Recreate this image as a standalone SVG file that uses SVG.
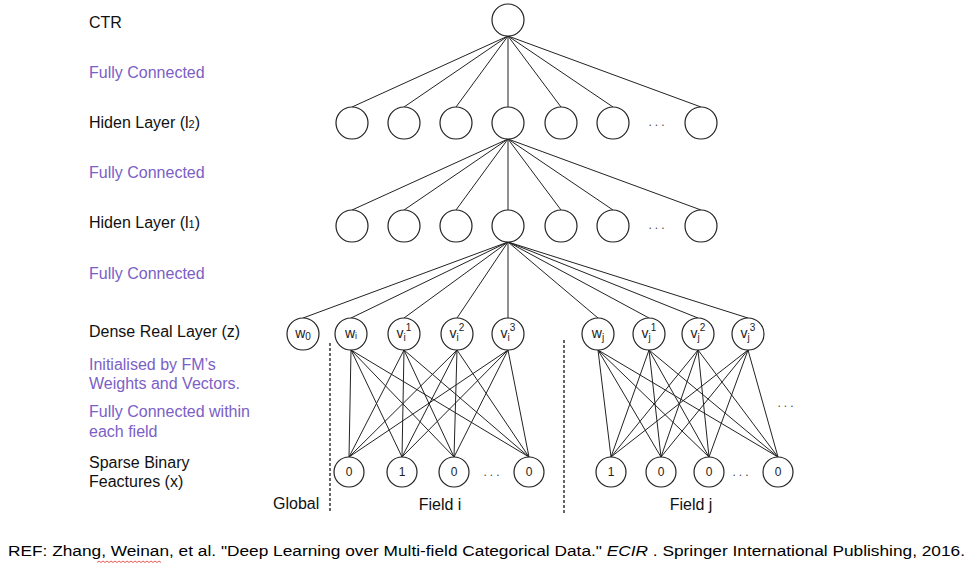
<svg xmlns="http://www.w3.org/2000/svg" width="974" height="571" viewBox="0 0 974 571">
<style>
text{font-family:"Liberation Sans",Arial,sans-serif;}
.lbl{font-size:16px;fill:#111;}
.fc{font-size:16px;fill:#7b60c6;}
.n{fill:#fff;stroke:#222;stroke-width:1.2;}
.e{stroke:#222;stroke-width:1;fill:none;}
.d{stroke:#333;stroke-width:1.5;stroke-dasharray:3,2;fill:none;}
.nt{font-size:14px;fill:#222;text-anchor:middle;}
.bt{font-size:12px;fill:#222;text-anchor:middle;}
.dots{font-size:12px;fill:#444;text-anchor:middle;letter-spacing:3px;}
.ref{font-size:15.5px;fill:#000;}
</style>
<rect width="974" height="571" fill="#fff"/>

<g id="labels">
<text class="lbl" x="89" y="28">CTR</text>
<text class="fc" x="89" y="78">Fully Connected</text>
<text class="lbl" x="89" y="128">Hiden Layer (l<tspan font-size="11">2</tspan>)</text>
<text class="fc" x="89" y="178">Fully Connected</text>
<text class="lbl" x="89" y="228">Hiden Layer (l<tspan font-size="11">1</tspan>)</text>
<text class="fc" x="89" y="279">Fully Connected</text>
<text class="lbl" x="89" y="337">Dense Real Layer (z)</text>
<text class="fc" x="89" y="370">Initialised by FM’s</text>
<text class="fc" x="89" y="389">Weights and Vectors.</text>
<text class="fc" x="89" y="417">Fully Connected within</text>
<text class="fc" x="89" y="437">each field</text>
<text class="lbl" x="89" y="468">Sparse Binary</text>
<text class="lbl" x="89" y="487">Feactures (x)</text>
<text class="lbl" x="273" y="509">Global</text>
<text class="lbl" x="440" y="510" text-anchor="middle">Field i</text>
<text class="lbl" x="691" y="510" text-anchor="middle">Field j</text>
</g>

<g id="connectors">
<!-- CTR to l2 -->
<line class="e" x1="508" y1="36" x2="352" y2="107"/>
<line class="e" x1="508" y1="36" x2="404" y2="107"/>
<line class="e" x1="508" y1="36" x2="456" y2="107"/>
<line class="e" x1="508" y1="36" x2="508" y2="107"/>
<line class="e" x1="508" y1="36" x2="561" y2="107"/>
<line class="e" x1="508" y1="36" x2="613" y2="107"/>
<line class="e" x1="508" y1="36" x2="701" y2="107"/>
<!-- l2 to l1 -->
<line class="e" x1="508" y1="139" x2="352" y2="210"/>
<line class="e" x1="508" y1="139" x2="404" y2="210"/>
<line class="e" x1="508" y1="139" x2="456" y2="210"/>
<line class="e" x1="508" y1="139" x2="508" y2="210"/>
<line class="e" x1="508" y1="139" x2="561" y2="210"/>
<line class="e" x1="508" y1="139" x2="613" y2="210"/>
<line class="e" x1="508" y1="139" x2="701" y2="210"/>
<!-- l1 to dense -->
<line class="e" x1="508" y1="242" x2="303" y2="318"/>
<line class="e" x1="508" y1="242" x2="351" y2="318"/>
<line class="e" x1="508" y1="242" x2="404" y2="318"/>
<line class="e" x1="508" y1="242" x2="457" y2="318"/>
<line class="e" x1="508" y1="242" x2="508" y2="318"/>
<line class="e" x1="508" y1="242" x2="598" y2="318"/>
<line class="e" x1="508" y1="242" x2="649" y2="318"/>
<line class="e" x1="508" y1="242" x2="698" y2="318"/>
<line class="e" x1="508" y1="242" x2="748" y2="318"/>
<!-- field i -->
<path class="e" d="M351 350L349 457M351 350L402 457M351 350L454 457M351 350L529 457
M404 350L349 457M404 350L402 457M404 350L454 457M404 350L529 457
M457 350L349 457M457 350L402 457M457 350L454 457M457 350L529 457
M508 350L349 457M508 350L402 457M508 350L454 457M508 350L529 457"/>
<!-- field j -->
<path class="e" d="M598 350L611 457M598 350L661 457M598 350L709 457M598 350L778 457
M649 350L611 457M649 350L661 457M649 350L709 457M649 350L778 457
M698 350L611 457M698 350L661 457M698 350L709 457M698 350L778 457
M748 350L611 457M748 350L661 457M748 350L709 457M748 350L778 457"/>
<!-- separators -->
<line class="d" x1="330" y1="343" x2="330" y2="513"/>
<line class="d" x1="564" y1="340" x2="564" y2="513"/>
</g>

<g id="ctr"><circle class="n" cx="508" cy="20" r="16"/></g>

<g id="l2">
<circle class="n" cx="352" cy="123" r="16"/>
<circle class="n" cx="404" cy="123" r="16"/>
<circle class="n" cx="456" cy="123" r="16"/>
<circle class="n" cx="508" cy="123" r="16"/>
<circle class="n" cx="561" cy="123" r="16"/>
<circle class="n" cx="613" cy="123" r="16"/>
<text class="dots" x="658" y="126">...</text>
<circle class="n" cx="701" cy="123" r="16"/>
</g>

<g id="l1">
<circle class="n" cx="352" cy="226" r="16"/>
<circle class="n" cx="404" cy="226" r="16"/>
<circle class="n" cx="456" cy="226" r="16"/>
<circle class="n" cx="508" cy="226" r="16"/>
<circle class="n" cx="561" cy="226" r="16"/>
<circle class="n" cx="613" cy="226" r="16"/>
<text class="dots" x="658" y="229">...</text>
<circle class="n" cx="701" cy="226" r="16"/>
</g>

<g id="dense">
<g id="w0"><circle class="n" cx="303" cy="334" r="16"/><text class="nt" x="303" y="338">w<tspan font-size="10" dy="2">0</tspan></text></g>
<g id="wi"><circle class="n" cx="351" cy="334" r="16"/><text class="nt" x="351" y="338">w<tspan font-size="9" dy="1">i</tspan></text></g>
<g id="vi1"><circle class="n" cx="404" cy="334" r="16"/><text class="nt" x="404" y="338">v<tspan font-size="10" dy="3">i</tspan><tspan font-size="10" dy="-10">1</tspan></text></g>
<g id="vi2"><circle class="n" cx="457" cy="334" r="16"/><text class="nt" x="457" y="338">v<tspan font-size="10" dy="3">i</tspan><tspan font-size="10" dy="-10">2</tspan></text></g>
<g id="vi3"><circle class="n" cx="508" cy="334" r="16"/><text class="nt" x="508" y="338">v<tspan font-size="10" dy="3">i</tspan><tspan font-size="10" dy="-10">3</tspan></text></g>
<g id="wj"><circle class="n" cx="598" cy="334" r="16"/><text class="nt" x="598" y="338">w<tspan font-size="10" dy="3">j</tspan></text></g>
<g id="vj1"><circle class="n" cx="649" cy="334" r="16"/><text class="nt" x="649" y="338">v<tspan font-size="10" dy="3">j</tspan><tspan font-size="10" dy="-10">1</tspan></text></g>
<g id="vj2"><circle class="n" cx="698" cy="334" r="16"/><text class="nt" x="698" y="338">v<tspan font-size="10" dy="3">j</tspan><tspan font-size="10" dy="-10">2</tspan></text></g>
<g id="vj3"><circle class="n" cx="748" cy="334" r="16"/><text class="nt" x="748" y="338">v<tspan font-size="10" dy="3">j</tspan><tspan font-size="10" dy="-10">3</tspan></text></g>
<text class="dots" x="787" y="407">...</text>
</g>

<g id="sparse">
<g id="xi1"><circle class="n" cx="349" cy="472" r="15"/><text class="bt" x="349" y="476">0</text></g>
<g id="xi2"><circle class="n" cx="402" cy="472" r="15"/><text class="bt" x="402" y="476">1</text></g>
<g id="xi3"><circle class="n" cx="454" cy="472" r="15"/><text class="bt" x="454" y="476">0</text></g>
<text class="dots" x="493" y="476">...</text>
<g id="xi4"><circle class="n" cx="529" cy="472" r="15"/><text class="bt" x="529" y="476">0</text></g>
<g id="xj1"><circle class="n" cx="611" cy="472" r="15"/><text class="bt" x="611" y="476">1</text></g>
<g id="xj2"><circle class="n" cx="661" cy="472" r="15"/><text class="bt" x="661" y="476">0</text></g>
<g id="xj3"><circle class="n" cx="709" cy="472" r="15"/><text class="bt" x="709" y="476">0</text></g>
<text class="dots" x="742" y="476">...</text>
<g id="xj4"><circle class="n" cx="778" cy="472" r="15"/><text class="bt" x="778" y="476">0</text></g>
</g>

<g id="reference">
<text class="ref" x="8" y="556" textLength="957" lengthAdjust="spacingAndGlyphs">REF: Zhang, Weinan,  et al. "Deep Learning over Multi-field Categorical Data." <tspan font-style="italic">ECIR</tspan> . Springer International Publishing, 2016.</text>
<path d="M97 562.5 l2 -1.5 l2 1.5 l2 -1.5 l2 1.5 l2 -1.5 l2 1.5 l2 -1.5 l2 1.5 l2 -1.5 l2 1.5 l2 -1.5 l2 1.5 l2 -1.5 l2 1.5 l2 -1.5 l2 1.5 l2 -1.5 l2 1.5 l2 -1.5 l2 1.5 l2 -1.5 l2 1.5 l2 -1.5 l2 1.5 l2 -1.5 l2 1.5 l2 -1.5 l2 1.5 l2 -1.5 l2 1.5 l2 -1.5 l2 1.5" fill="none" stroke="#e03030" stroke-width="0.8"/>
</g>
</svg>
